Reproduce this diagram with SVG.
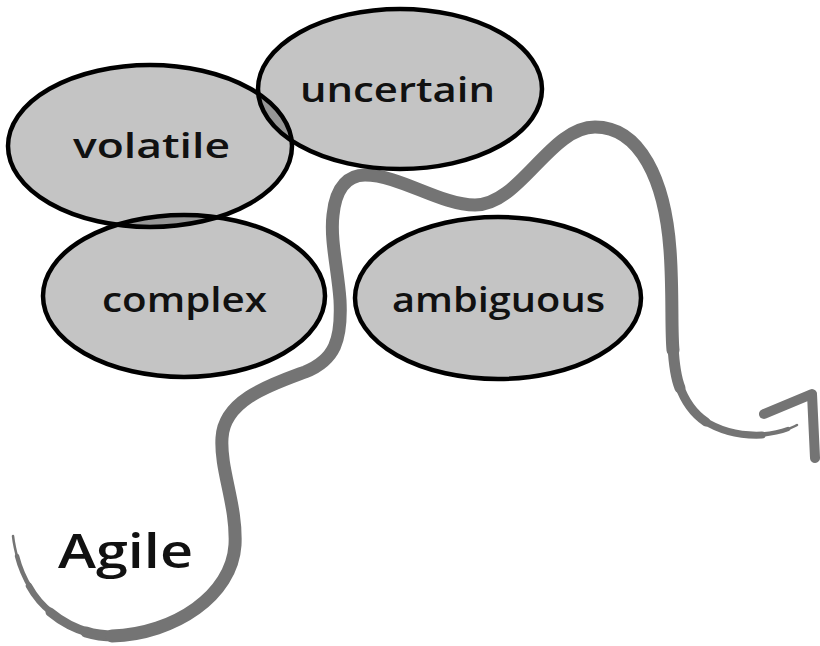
<svg xmlns="http://www.w3.org/2000/svg" width="820" height="646" viewBox="0 0 820 646">
  <style>
    .blob { fill: #000; fill-opacity: 0.23; stroke: #000; stroke-width: 4.5; }
    .word { font-family: "Open Sans", "DejaVu Sans", sans-serif; font-size: 35px; font-weight: 600; fill: #111; }
    .trail { fill: none; stroke: #747474; stroke-linecap: round; stroke-linejoin: round; }
  </style>
  <rect width="820" height="646" fill="#fff"/>

  <!-- winding path of the journey, thin at its start and thinning again toward the arrow -->
  <g id="connectors">
    <path class="trail" stroke-width="2.5" d="M 13 536 C 14 545, 16 553, 18 560"/>
    <path class="trail" stroke-width="4.5" d="M 17 556 C 20 568, 25 579, 31 589"/>
    <path class="trail" stroke-width="6.5" d="M 29 586 C 35 597, 43 606, 52 613"/>
    <path class="trail" stroke-width="9" d="M 50 612 C 62 622, 76 629, 90 633"/>
    <path class="trail" stroke-width="11" d="M 86 632 C 95 635, 105 636, 115 636"/>
    <path class="trail" stroke-width="13" d="M 112 636 C 175 634, 232 595, 235 545 C 237 505, 220 470, 222 438 C 224 400, 270 385, 305 372 C 335 360, 342 340, 340 300 C 338 270, 330 240, 333 215 C 336 185, 350 175, 365 175 C 400 175, 440 205, 475 205 C 520 205, 550 127, 595 127 C 640 127, 665 180, 670 250 C 673 290, 671 330, 673 350"/>
    <path class="trail" stroke-width="11" d="M 673 346 C 674 365, 676 378, 680 388"/>
    <path class="trail" stroke-width="9" d="M 679 385 C 685 402, 694 414, 706 422"/>
    <path class="trail" stroke-width="7" d="M 703 420 C 720 431, 740 436, 762 435"/>
    <path class="trail" stroke-width="4.5" d="M 758 435 C 770 434, 780 432, 788 429"/>
    <path class="trail" stroke-width="2.5" d="M 786 430 C 790 428, 794 427, 797 425"/>
    <!-- arrowhead -->
    <polyline class="trail" stroke-width="10" stroke-linecap="butt" points="764,414 812,394 815,458"/>
  </g>

  <g id="node-volatile">
    <ellipse class="blob" cx="150" cy="146" rx="142" ry="81"/>
    <text class="word" x="73" y="158" textLength="157" lengthAdjust="spacingAndGlyphs">volatile</text>
  </g>

  <g id="node-uncertain">
    <ellipse class="blob" cx="400" cy="89" rx="142" ry="80"/>
    <text class="word" x="300" y="102" textLength="195" lengthAdjust="spacingAndGlyphs">uncertain</text>
  </g>

  <g id="node-complex">
    <ellipse class="blob" cx="184" cy="296" rx="141" ry="81"/>
    <text class="word" x="102" y="312" textLength="165" lengthAdjust="spacingAndGlyphs">complex</text>
  </g>

  <g id="node-ambiguous">
    <ellipse class="blob" cx="498" cy="298" rx="143" ry="81"/>
    <text class="word" x="392" y="312" textLength="213" lengthAdjust="spacingAndGlyphs">ambiguous</text>
  </g>

  <g id="node-agile">
    <text class="word" x="58" y="568" style="font-size:47px" textLength="135" lengthAdjust="spacingAndGlyphs">Agile</text>
  </g>
</svg>
